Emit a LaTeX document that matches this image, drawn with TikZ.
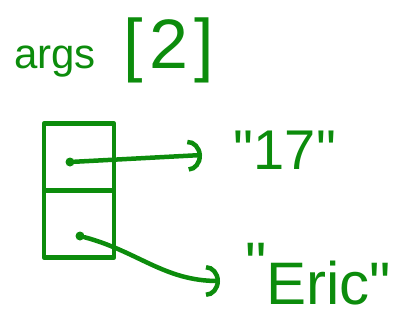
\documentclass[tikz,border=0pt]{standalone}
\usepackage{fontspec}
\newfontfamily\hand{Liberation Sans}
\usetikzlibrary{arrows.meta}
\definecolor{ink}{RGB}{12,140,12}
\begin{document}
\begin{tikzpicture}[x=1pt,y=-1pt,
  pen/.style={draw=ink,line width=4.5pt,line cap=round,line join=round},
  cell/.style={pen,minimum width=70pt,minimum height=67pt,inner sep=0pt},
  dot/.style={circle,fill=ink,minimum size=9pt,inner sep=0pt},
  lbl/.style={text=ink,inner sep=0pt,font=\hand},
  ptr/.style={pen,-{Arc Barb[length=14pt,width=32pt]}}]
\useasboundingbox (0,0) rectangle (414,327);
\node[lbl,anchor=base west] (title) at (14,68) {\fontsize{42}{46}\selectfont args\hspace{28pt}\fontsize{70}{76}\selectfont [\hspace{6pt}2\hspace{6pt}]};
\node[cell] (c0) at (79,157) {};
\node[cell] (c1) at (79,224) {};
\node[dot] (p0) at (70,162) {};
\node[dot] (p1) at (80,236) {};
\node[lbl] (s17) at (285,150) {\fontsize{56}{60}\selectfont "17"};
\node[lbl,anchor=base west] (eric) at (245,304) {\fontsize{60}{64}\selectfont \raisebox{20pt}{"}Eric"};
\coordinate (t0) at (202,155);
\coordinate (t1) at (220,281);
\draw[ptr] (p0) -- (t0);
\draw[ptr] (p1) to[out=-15,in=180] (t1);
\end{tikzpicture}
\end{document}
